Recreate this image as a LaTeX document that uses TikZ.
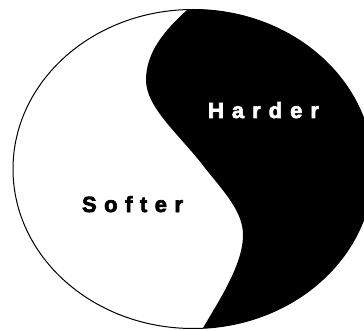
\documentclass[tikz,border=0pt]{standalone}
\usepackage{fontspec}
\setmainfont{Liberation Sans}[BoldFeatures={FakeBold=3}]
\tikzset{
  lbl/.style={inner sep=0pt, anchor=base},
  rim/.style={line width=1pt, draw=black}
}
\newcommand\lblfont{\fontsize{22pt}{26pt}\selectfont\bfseries}
\begin{document}
\begin{tikzpicture}[x=1pt,y=-1pt]
\useasboundingbox (0,0) rectangle (364,331);
\fill[white] (0,0) rectangle (364,331);
\begin{scope}
  \clip (193,169) ellipse [x radius=180, y radius=159.5];
  \fill[black] (187,0) -- (187,10)
    .. controls (165,30) and (146,52) .. (146,80)
    .. controls (146,108) and (180,135) .. (205,168)
    .. controls (225,193) and (243,212) .. (243,235)
    .. controls (243,265) and (218,302) .. (203,328)
    -- (203,340) -- (380,340) -- (380,-5) -- (187,-5) -- cycle;
\end{scope}
\draw[rim] (193,169) ellipse [x radius=180, y radius=159.5];
\node[lbl, text=white] (harder) at (263.5,118) {\lblfont H\kern8pt a\kern8pt r\kern8pt d\kern8pt e\kern8pt r};
\node[lbl, text=black] (softer) at (132.5,212) {\lblfont S\kern7.5pt o\kern7.5pt f\kern7.5pt t\kern7.5pt e\kern7.5pt r};
\end{tikzpicture}
\end{document}
